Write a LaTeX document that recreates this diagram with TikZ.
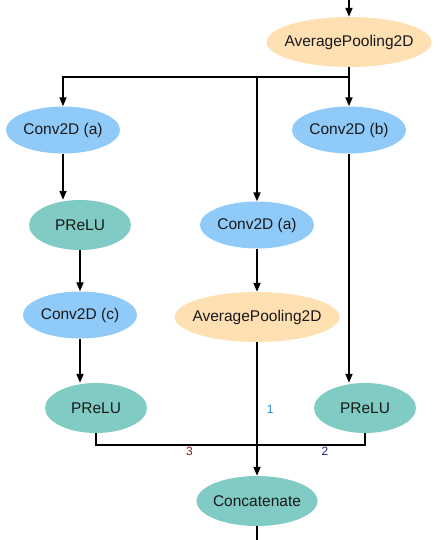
\documentclass[tikz,border=0pt]{standalone}
\usepackage{fontspec}
\setmainfont{Liberation Sans}
\usepackage{xcolor}
\usetikzlibrary{arrows.meta}
\usetikzlibrary{shapes.geometric}
\usetikzlibrary{positioning}
\definecolor{convblue}{HTML}{90CAF9}
\definecolor{poolpeach}{HTML}{FFE0B2}
\definecolor{actteal}{HTML}{80CBC4}
\definecolor{labone}{HTML}{1E88E5}
\definecolor{labtwo}{HTML}{1A237E}
\definecolor{labthree}{HTML}{7F1D1D}

\begin{document}
\begin{tikzpicture}[x=1pt,y=-1pt,
	layer/.style={ellipse, inner xsep=-40pt, inner ysep=0pt, minimum height=50pt, font=\fontsize{15.5}{17}\selectfont, text=black!90},
	conv/.style={layer, fill=convblue, minimum width=114pt, minimum height=47pt},
	pool/.style={layer, fill=poolpeach, minimum width=165pt},
	act/.style={layer, fill=actteal, minimum width=102pt},
	arr/.style={line width=1.8pt, -{Triangle[length=9pt, width=7pt]}},
	wire/.style={line width=1.8pt},
	edgelab/.style={font=\fontsize{12}{13}\selectfont, inner sep=1pt}]
	\useasboundingbox (0,0) rectangle (439,540);
	% draw layers
	\node[pool] (poolTop) at (349,42) {AveragePooling2D};
	\node[conv] (convA) at (63,130) {Conv2D (a)};
	\node[conv] (convB) at (349,130) {Conv2D (b)};
	\node[act] (preluA) at (80,225) {PReLU};
	\node[conv] (convMid) at (257,225) {Conv2D (a)};
	\node[conv] (convC) at (80,315) {Conv2D (c)};
	\node[pool] (poolMid) at (257,317) {AveragePooling2D};
	\node[act] (preluC) at (96,408) {PReLU};
	\node[act] (preluB) at (365,408) {PReLU};
	\node[act, minimum width=121pt] (concat) at (257,501) {Concatenate};
	% helper points
	\coordinate (in) at (349,0);
	\coordinate (split) at (349,77);
	\coordinate (merge) at (257,445);
	\coordinate (out) at (257,540);
	% draw branches
	\draw[arr] (in) -- (poolTop.north);
	\draw[wire] (poolTop.south) -- (split);
	\draw[arr] (split) -| (convA.north);
	\draw[arr] (split) -- (convB.north);
	\draw[arr] (split) -| (convMid.north);
	\draw[arr] (convA.south) -- (convA.south |- preluA.north);
	\draw[arr] (preluA.south) -- (convC.north);
	\draw[arr] (convC.south) -- (convC.south |- preluC.north);
	\draw[arr] (convMid.south) -- (poolMid.north);
	\draw[arr] (convB.south) -- (convB.south |- preluB.north);
	% draw merge
	\draw[wire] (preluC.south) |- (merge) node[pos=0.79, below, edgelab, text=labthree] {3};
	\draw[wire] (preluB.south) |- (merge) node[pos=0.685, below, edgelab, text=labtwo] {2};
	\draw[arr] (poolMid.south) -- (concat.north) node[pos=0.5, right=8pt, edgelab, text=labone] {1};
	\draw[wire] (concat.south) -- (out);
\end{tikzpicture}
\end{document}
